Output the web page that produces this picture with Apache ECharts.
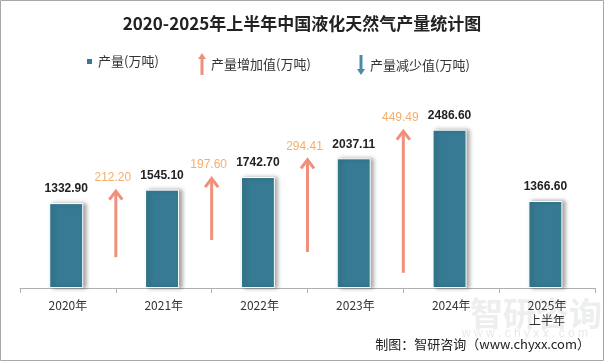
<!DOCTYPE html>
<html><head><meta charset="utf-8">
<script src="https://cdn.jsdelivr.net/npm/echarts@6/dist/echarts.min.js"></script>
<style>html,body{margin:0;padding:0;background:#fff}#c{width:604px;height:361px}</style>
</head><body><div id="c"></div>
<script>
const categories = ['2020年', '2021年', '2022年', '2023年', '2024年', '2025年\n上半年'];
const production = [1332.90, 1545.10, 1742.70, 2037.11, 2486.60, 1366.60];
const increase = [212.20, 197.60, 294.41, 449.49];
const increaseFrom = [0, 1, 2, 3];
const arrowTail = [484, 755, 565, 239];

const arrowColor = '#F0907A';
const chart = echarts.init(document.getElementById('c'));
const cjk = '"Noto Sans CJK SC", sans-serif';

const arrowData = increase.map((d, i) => [increaseFrom[i], arrowTail[i], production[increaseFrom[i] + 1], d]);

chart.setOption({
  animation: false,
  backgroundColor: '#fff',
  title: {
    text: '2020-2025年上半年中国液化天然气产量统计图',
    left: 'center', top: 10,
    textStyle: {fontFamily: cjk, fontSize: 17, fontWeight: 'bold', color: '#222'}
  },
  legend: [
    {data: ['产量(万吨)'], left: 80, top: 50, icon: 'rect', itemWidth: 7, itemHeight: 7, itemGap: 6,
     textStyle: {fontFamily: cjk, fontSize: 13, color: '#333'}},
    {data: [{name: '产量增加值(万吨)', icon: 'path://M4,0 L8,6 L5.5,6 L5.5,22 L2.5,22 L2.5,6 L0,6 Z'}], left: 193, top: 48, itemWidth: 8, itemHeight: 22, itemGap: 4,
     textStyle: {fontFamily: cjk, fontSize: 13, color: '#333'}},
    {data: [{name: '产量减少值(万吨)', icon: 'path://M2.5,0 L5.5,0 L5.5,14 L8,14 L4,20 L0,14 L2.5,14 Z'}], left: 352, top: 50, itemWidth: 8, itemHeight: 20, itemGap: 4,
     textStyle: {fontFamily: cjk, fontSize: 13, color: '#333'}}
  ],
  grid: {left: 20, right: 9, top: 97, bottom: 73},
  xAxis: {
    type: 'category', data: categories,
    axisLine: {lineStyle: {color: '#b0b0b0'}},
    axisTick: {show: true, length: 5, lineStyle: {color: '#b0b0b0'}},
    axisLabel: {fontFamily: cjk, fontSize: 12, color: '#333', margin: 10, lineHeight: 15}
  },
  yAxis: {type: 'value', min: 0, max: 3000, show: false, splitLine: {show: false}},
  series: [
    {
      name: '产量(万吨)', type: 'bar', data: production, barWidth: 34,
      itemStyle: {color: '#367B93', borderColor: '#fff', borderWidth: 1,
        shadowColor: 'rgba(0,0,0,0.35)', shadowBlur: 4, shadowOffsetX: 3, shadowOffsetY: 0},
      label: {show: true, position: 'top', distance: 8, color: '#222', fontWeight: 'bold',
        fontFamily: '"Liberation Sans", sans-serif', fontSize: 12,
        formatter: p => p.value.toFixed(2)},
      z: 2
    },
    {
      name: '产量增加值(万吨)', type: 'custom', data: arrowData,
      encode: {x: 0, y: [1, 2]},
      itemStyle: {color: arrowColor},
      renderItem: (params, api) => {
        const i = api.value(0);
        const p0 = api.coord([i, api.value(2)]);
        const p1 = api.coord([i + 1, api.value(2)]);
        const x = (p0[0] + p1[0]) / 2;
        const yTop = p0[1];
        const yBot = api.coord([i, api.value(1)])[1];
        return {type: 'group', children: [
          {type: 'line', shape: {x1: x, y1: yBot, x2: x, y2: yTop + 2}, style: {stroke: arrowColor, lineWidth: 3}},
          {type: 'polyline', shape: {points: [[x - 6.5, yTop + 10], [x, yTop + 1.5], [x + 6.5, yTop + 10]]},
           style: {stroke: arrowColor, lineWidth: 3, fill: null}},
          {type: 'text', x: x - 3, y: yTop - 12,
           style: {text: api.value(3).toFixed(2), fill: '#F5AE6A', font: '12px "Liberation Sans", sans-serif',
             align: 'center', verticalAlign: 'middle'}}
        ]};
      }
    },
    {name: '产量减少值(万吨)', type: 'bar', data: [], itemStyle: {color: '#4A8CA6'}}
  ],
  color: ['#4A8FA8', arrowColor, '#4A8CA6'],
  graphic: [
    {type: 'rect', shape: {x: 0.5, y: 0.5, width: 603, height: 360}, style: {fill: null, stroke: '#a8a8a8', lineWidth: 1}, silent: true},
    {type: 'text', left: 470, top: 297, z: -1, style: {text: '智研咨询', fill: 'rgba(200,205,210,0.35)', font: 'bold 33px ' + cjk}},
    {type: 'text', left: 462, top: 328, z: -1, style: {text: 'w w w . c h y x x . c o m', fill: 'rgba(200,205,210,0.45)', font: '12px "Liberation Sans", sans-serif'}},
    {type: 'text', right: 14, top: 338, style: {text: '制图：智研咨询（www.chyxx.com）', fill: '#222', font: '13px ' + cjk}}
  ]
});
</script></body></html>
